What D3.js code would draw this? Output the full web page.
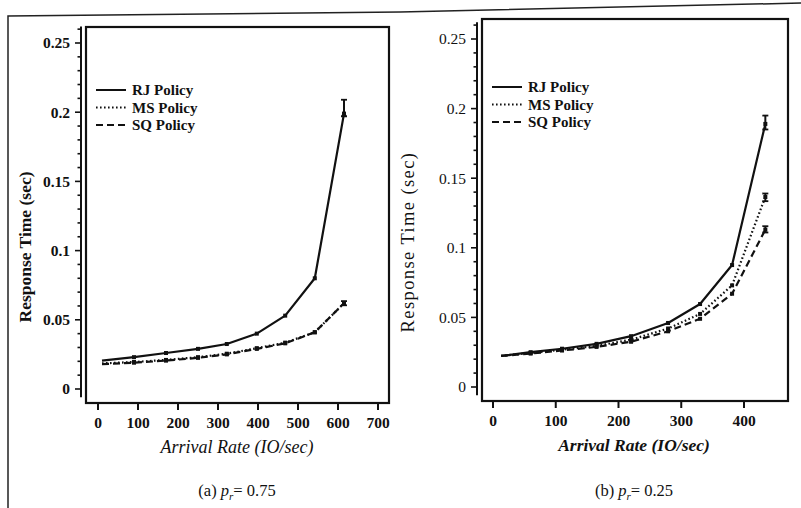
<!DOCTYPE html>
<html>
<head>
<meta charset="utf-8">
<script src="https://cdn.jsdelivr.net/npm/d3@7"></script>
<style>
  html, body { margin: 0; padding: 0; background: #fff; }
  svg { display: block; }
  text { font-family: "Liberation Serif", "DejaVu Serif", serif; fill: #111; }
</style>
</head>
<body>
<svg id="chart" width="801" height="508"></svg>
<script>
// Panel (a): p_r = 0.75
const rateA = [10, 90, 170, 250, 322, 397, 468, 542, 615];
const rjA   = [0.0205, 0.023, 0.026, 0.029, 0.0325, 0.040, 0.053, 0.080, 0.199];
const msA   = [0.0185, 0.0195, 0.021, 0.023, 0.0255, 0.0295, 0.0335, 0.041, 0.062];
const sqA   = [0.018, 0.019, 0.0205, 0.0225, 0.025, 0.029, 0.033, 0.041, 0.062];
// confidence intervals at the highest load [low, high]
const rjCiA = [0.197, 0.209];
const sqCiA = [0.0605, 0.0635];

// Panel (b): p_r = 0.25
const rateB = [13, 60, 110, 165, 220, 279, 330, 381, 434];
const rjB   = [0.0223, 0.025, 0.0275, 0.031, 0.0365, 0.046, 0.0596, 0.0876, 0.189];
const msB   = [0.0223, 0.0245, 0.0268, 0.0295, 0.034, 0.042, 0.0525, 0.073, 0.1365];
const sqB   = [0.0223, 0.024, 0.0262, 0.0288, 0.0325, 0.040, 0.049, 0.067, 0.113];
const rjCiB = [0.185, 0.195];
const msCiB = [0.1335, 0.139];
const sqCiB = [0.111, 0.1155];

const yTicks = [0, 0.05, 0.1, 0.15, 0.2, 0.25];
const yTickLabels = ["0", "0.05", "0.1", "0.15", "0.2", "0.25"];
const xTicksA = [0, 100, 200, 300, 400, 500, 600, 700];
const xTicksB = [0, 100, 200, 300, 400];
const legendNames = ["RJ Policy", "MS Policy", "SQ Policy"];
const yTitle = "Response Time (sec)";
const xTitle = "Arrival Rate (IO/sec)";

const svg = d3.select("#chart");

// page frame (scanned page edge)
svg.append("path")
  .attr("d", "M8,508 L8,16 L400,12 L801,3")
  .attr("fill", "none").attr("stroke", "#222").attr("stroke-width", 1.5);

const styles = [
  { dash: null,    width: 2.2 },
  { dash: "1.6,2.4", width: 2.2 },
  { dash: "7,4",   width: 2.2 }
];

function panel(cfg) {
  const g = svg.append("g");
  const x = d3.scaleLinear().domain(cfg.xDomain).range(cfg.xRange);
  const y = d3.scaleLinear().domain([0, 0.25]).range(cfg.yRange);
  const fb = cfg.frame; // [left, top, right, bottom]

  // plot frame
  g.append("rect")
    .attr("x", fb[0]).attr("y", fb[1])
    .attr("width", fb[2] - fb[0]).attr("height", fb[3] - fb[1])
    .attr("fill", "none").attr("stroke", "#111").attr("stroke-width", 2.2);

  // y axis spine with major and minor ticks
  const sx = cfg.spineX;
  g.append("line")
    .attr("x1", sx).attr("x2", sx)
    .attr("y1", y(0.262)).attr("y2", y(-0.006))
    .attr("stroke", "#111").attr("stroke-width", 2);
  const minor = d3.range(0, 27).map(i => i * 0.01);
  g.selectAll(null).data(minor).enter().append("line")
    .attr("x1", d => sx - (Math.round(d * 100) % 5 === 0 ? 6 : 3.5))
    .attr("x2", sx)
    .attr("y1", d => y(d)).attr("y2", d => y(d))
    .attr("stroke", "#111").attr("stroke-width", 1.6);
  g.selectAll(null).data(yTicks).enter().append("text")
    .attr("x", sx - 11).attr("y", d => y(d))
    .attr("dy", "0.35em").attr("text-anchor", "end")
    .style("font-size", "15.5px")
    .style("font-weight", cfg.yBold ? "bold" : "normal")
    .text((d, i) => yTickLabels[i]);

  // x ticks hanging below the frame
  g.selectAll(null).data(cfg.xTicks).enter().append("line")
    .attr("x1", d => x(d)).attr("x2", d => x(d))
    .attr("y1", fb[3]).attr("y2", fb[3] + 7)
    .attr("stroke", "#111").attr("stroke-width", 2);
  g.selectAll(null).data(cfg.xTicks).enter().append("text")
    .attr("x", d => x(d)).attr("y", fb[3] + 25)
    .attr("text-anchor", "middle")
    .style("font-size", "15.5px").style("font-weight", "bold")
    .text(d => d);

  // axis titles
  g.append("text")
    .attr("transform", `translate(${cfg.yTitleX},${cfg.yTitleY}) rotate(-90)`)
    .attr("text-anchor", "middle").attr("dy", "0.35em")
    .style("font-size", cfg.yTitleSize + "px")
    .style("font-weight", cfg.yBold ? "bold" : "normal")
    .style("letter-spacing", cfg.yTitleSpacing + "px")
    .text(yTitle);
  g.append("text")
    .attr("x", cfg.xTitleX).attr("y", fb[3] + 50)
    .attr("text-anchor", "middle")
    .style("font-size", cfg.xTitleSize + "px").style("font-style", "italic")
    .style("font-weight", cfg.xTitleBold ? "bold" : "normal")
    .text(xTitle);

  // caption
  const cap = g.append("text")
    .attr("x", cfg.xTitleX).attr("y", cfg.captionY)
    .attr("text-anchor", "middle").style("font-size", "16.5px");
  cap.append("tspan").text(cfg.captionTag + " ");
  cap.append("tspan").style("font-style", "italic").text("p");
  cap.append("tspan").style("font-style", "italic").style("font-size", "11px")
    .attr("dy", 4).text("r");
  cap.append("tspan").attr("dy", -4).text("= " + cfg.captionValue);

  // series lines
  const line = d3.line().x((d, i) => x(cfg.rate[i])).y(d => y(d));
  cfg.series.forEach((s, k) => {
    g.append("path").datum(s)
      .attr("d", line)
      .attr("fill", "none").attr("stroke", "#111")
      .attr("stroke-width", styles[k].width)
      .attr("stroke-linejoin", "round")
      .attr("stroke-dasharray", styles[k].dash);
    // point markers
    g.selectAll(null).data(s.slice(1)).enter().append("rect")
      .attr("x", (d, i) => x(cfg.rate[i + 1]) - 2)
      .attr("y", d => y(d) - 2)
      .attr("width", 4).attr("height", 4)
      .attr("fill", "#111");
  });

  // confidence interval bars at the last rate
  const last = cfg.rate[cfg.rate.length - 1];
  cfg.cis.forEach(ci => {
    const cx = x(last);
    g.append("line").attr("x1", cx).attr("x2", cx)
      .attr("y1", y(ci[0])).attr("y2", y(ci[1]))
      .attr("stroke", "#111").attr("stroke-width", 2);
    [ci[0], ci[1]].forEach(v => {
      g.append("line").attr("x1", cx - 3).attr("x2", cx + 3)
        .attr("y1", y(v)).attr("y2", y(v))
        .attr("stroke", "#111").attr("stroke-width", 1.8);
    });
  });
  if (cfg.topTriangle) {
    const tx = x(last), ty = y(cfg.series[0][cfg.series[0].length - 1]);
    g.append("path")
      .attr("d", `M${tx - 3},${ty + 3} L${tx + 3},${ty + 3} L${tx},${ty - 3} Z`)
      .attr("fill", "#111");
  }

  // legend
  legendNames.forEach((name, k) => {
    const ly = cfg.legendY + k * 17.5;
    g.append("line")
      .attr("x1", cfg.legendX).attr("x2", cfg.legendX + 30)
      .attr("y1", ly).attr("y2", ly)
      .attr("stroke", "#111").attr("stroke-width", 2)
      .attr("stroke-dasharray", styles[k].dash);
    g.append("text")
      .attr("x", cfg.legendX + 36).attr("y", ly).attr("dy", "0.35em")
      .style("font-size", "15px").style("font-weight", "bold")
      .text(name);
  });
}

panel({
  rate: rateA, series: [rjA, msA, sqA], cis: [rjCiA, sqCiA], topTriangle: true,
  xDomain: [0, 700], xRange: [98, 378], yRange: [389, 43],
  frame: [86, 27, 389, 403], spineX: 81, xTicks: xTicksA, yBold: true,
  yTitleX: 25, yTitleY: 247, yTitleSize: 17.5, yTitleSpacing: 0,
  xTitleX: 237, xTitleSize: 18, xTitleBold: false, captionY: 496, captionTag: "(a)", captionValue: "0.75",
  legendX: 96, legendY: 90
});

panel({
  rate: rateB, series: [rjB, msB, sqB], cis: [rjCiB, msCiB, sqCiB], topTriangle: false,
  xDomain: [0, 400], xRange: [493, 744], yRange: [387, 39],
  frame: [482, 19, 788, 401], spineX: 477, xTicks: xTicksB, yBold: false,
  yTitleX: 408, yTitleY: 242, yTitleSize: 18.5, yTitleSpacing: 1.4,
  xTitleX: 634, xTitleSize: 17.5, xTitleBold: true, captionY: 496, captionTag: "(b)", captionValue: "0.25",
  legendX: 492, legendY: 87
});
</script>
</body>
</html>
